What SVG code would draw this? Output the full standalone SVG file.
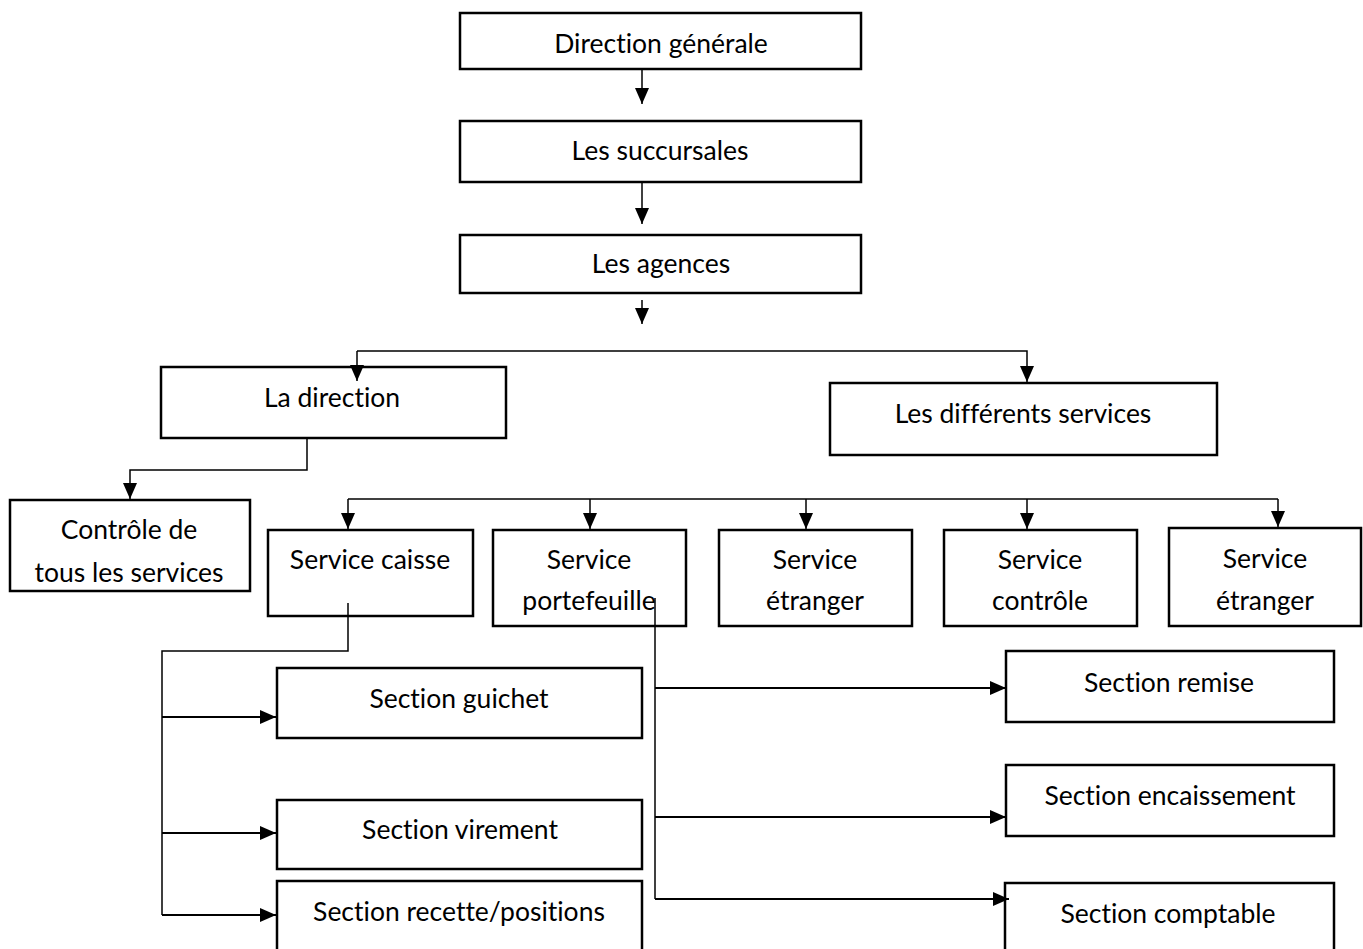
<svg xmlns="http://www.w3.org/2000/svg" width="1363" height="949" viewBox="0 0 1363 949">
<style>
.box{fill:#fff;stroke:#000;stroke-width:2.5}
.t{font-family:Lato,"Open Sans","Liberation Sans",sans-serif;font-size:26.5px;fill:#000;text-anchor:middle;font-variant-ligatures:none;font-feature-settings:"liga" 0}
.c{fill:none;stroke:#000;stroke-width:1.5}
.c2{fill:none;stroke:#000;stroke-width:2.2}
</style>
<defs>
<marker id="ah" markerUnits="userSpaceOnUse" markerWidth="16" markerHeight="16" viewBox="0 0 16 16" refX="16" refY="8" orient="auto">
<path d="M0,1 L16,8 L0,15 Z" fill="#000"/>
</marker>
</defs>
<g id="n1"><rect class="box" x="460" y="13" width="401" height="56"/><text class="t" x="661" y="53">Direction générale</text></g>
<g id="n2"><rect class="box" x="460" y="121" width="401" height="61"/><text class="t" x="660" y="160">Les succursales</text></g>
<g id="n3"><rect class="box" x="460" y="235" width="401" height="58"/><text class="t" x="661" y="273">Les agences</text></g>
<g id="n4"><rect class="box" x="161" y="367" width="345" height="71"/><text class="t" x="332" y="407">La direction</text></g>
<g id="n5"><rect class="box" x="830" y="383" width="387" height="72"/><text class="t" x="1023" y="423">Les différents services</text></g>
<g id="n6"><rect class="box" x="10" y="500" width="240" height="91"/><text class="t" x="129" y="539">Contrôle de</text><text class="t" x="129" y="582">tous les services</text></g>
<g id="n7"><rect class="box" x="268" y="530" width="205" height="86"/><text class="t" x="370" y="569">Service caisse</text></g>
<g id="n8"><rect class="box" x="493" y="530" width="193" height="96"/><text class="t" x="589" y="569">Service</text><text class="t" x="589" y="610">portefeuille</text></g>
<g id="n9"><rect class="box" x="719" y="530" width="193" height="96"/><text class="t" x="815" y="569">Service</text><text class="t" x="815" y="610">étranger</text></g>
<g id="n10"><rect class="box" x="944" y="530" width="193" height="96"/><text class="t" x="1040" y="569">Service</text><text class="t" x="1040" y="610">contrôle</text></g>
<g id="n11"><rect class="box" x="1169" y="528" width="192" height="98"/><text class="t" x="1265" y="568">Service</text><text class="t" x="1265" y="610">étranger</text></g>
<g id="n12"><rect class="box" x="277" y="668" width="365" height="70"/><text class="t" x="459" y="708">Section guichet</text></g>
<g id="n13"><rect class="box" x="277" y="800" width="365" height="69"/><text class="t" x="460" y="839">Section virement</text></g>
<g id="n14"><rect class="box" x="277" y="881" width="365" height="80"/><text class="t" x="459" y="921">Section recette/positions</text></g>
<g id="n15"><rect class="box" x="1006" y="651" width="328" height="71"/><text class="t" x="1169" y="692">Section remise</text></g>
<g id="n16"><rect class="box" x="1006" y="765" width="328" height="71"/><text class="t" x="1170" y="805">Section encaissement</text></g>
<g id="n17"><rect class="box" x="1005" y="883" width="329" height="78"/><text class="t" x="1168" y="923">Section comptable</text></g>
<g id="connectors">
<path class="c" d="M642,69 V104" marker-end="url(#ah)"/>
<path class="c" d="M642,182 V224" marker-end="url(#ah)"/>
<path class="c" d="M642,300 V324" marker-end="url(#ah)"/>
<path class="c" d="M357,351 H1027 V382" marker-end="url(#ah)"/>
<path class="c" d="M357,351 V381" marker-end="url(#ah)"/>
<path class="c" d="M307,438 V470 H130 V499" marker-end="url(#ah)"/>
<path class="c" d="M348,499 H1278"/>
<path class="c" d="M348,499 V529" marker-end="url(#ah)"/>
<path class="c" d="M590,499 V529" marker-end="url(#ah)"/>
<path class="c" d="M806,499 V529" marker-end="url(#ah)"/>
<path class="c" d="M1027,499 V529" marker-end="url(#ah)"/>
<path class="c" d="M1278,499 V527" marker-end="url(#ah)"/>
<path class="c" d="M348,603 V651 H162 V915"/>
<path class="c2" d="M162,717 H276" marker-end="url(#ah)"/>
<path class="c2" d="M162,833 H276" marker-end="url(#ah)"/>
<path class="c2" d="M162,915 H276" marker-end="url(#ah)"/>
<path class="c" d="M655,598 V899"/>
<path class="c2" d="M655,688 H1006" marker-end="url(#ah)"/>
<path class="c2" d="M655,817 H1006" marker-end="url(#ah)"/>
<path class="c2" d="M655,899 H1009" marker-end="url(#ah)"/>
</g>
</svg>
